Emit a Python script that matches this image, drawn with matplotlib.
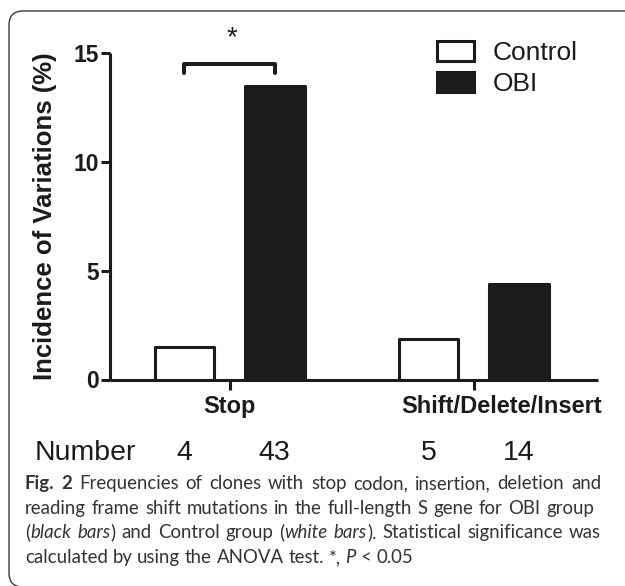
import matplotlib
matplotlib.use("Agg")
import matplotlib.pyplot as plt
from matplotlib.patches import FancyBboxPatch
from matplotlib import transforms as mtrans
import numpy as np

# ---------------- data ----------------
categories = ["Stop", "Shift/Delete/Insert"]
series_names = ["Control", "OBI"]
control_pct = [1.5, 1.85]
obi_pct = [13.5, 4.4]
control_n = [4, 5]
obi_n = [43, 14]
y_ticks = [0, 5, 10, 15]
ylabel = "Incidence of Variations (%)"
sig_label = "*"
caption_lines = [
    "#Fig. 2# Frequencies of clones with stop codon, insertion, deletion and",
    "reading frame shift mutations in the full-length S gene for OBI group",
    "(_black bars_) and Control group (_white bars_). Statistical significance was",
    "calculated by using the ANOVA test. *, _P_ < 0.05",
]

W, H = 625, 586
fig = plt.figure(figsize=(W / 100, H / 100), dpi=100)
fig.patch.set_facecolor("white")

SANS = ["Liberation Sans", "DejaVu Sans"]
CAP = ["Lato", "Open Sans", "DejaVu Sans"]

def px2fx(x):
    return x / W

def px2fy(y):
    return 1 - y / H

ax_left, ax_right, ax_top, ax_bot = 110, 598, 53, 379.5
ax = fig.add_axes([px2fx(ax_left), px2fy(ax_bot),
                   (ax_right - ax_left) / W, (ax_bot - ax_top) / H])

x = np.arange(len(categories))
bw = 0.245
off = 0.185
dark = "#1b1b1b"
lw_edge = 2.2
b1 = ax.bar(x - off, control_pct, bw, color="white", edgecolor=dark,
            linewidth=lw_edge, label=series_names[0], zorder=3)
b2 = ax.bar(x + off, obi_pct, bw, color=dark, edgecolor=dark,
            linewidth=lw_edge, label=series_names[1], zorder=3)
for b in list(b1) + list(b2):
    b.set_joinstyle("round")

ax.set_xlim(-0.49, 1.51)
ax.set_ylim(0, 15)
ax.set_yticks(y_ticks)
ax.set_xticks(x)
ax.set_xticklabels(categories)
for s in ["top", "right"]:
    ax.spines[s].set_visible(False)
for s in ["left", "bottom"]:
    ax.spines[s].set_linewidth(2.2)
    ax.spines[s].set_color(dark)
    ax.spines[s].set_capstyle("butt")
ax.tick_params(axis="y", length=6.5, width=2.2, color=dark, pad=1.5,
               labelsize=16.5)
ax.tick_params(axis="x", length=7, width=2.2, color=dark, pad=4,
               labelsize=17)
for lab in ax.get_yticklabels() + ax.get_xticklabels():
    lab.set_family(SANS)
    lab.set_fontweight("bold")
    lab.set_color(dark)
# shift second category label to the right as in reference
xl = ax.get_xticklabels()
xl[1].set_transform(xl[1].get_transform() +
                    mtrans.ScaledTranslation(28 / 100, 0, fig.dpi_scale_trans))

ax.set_ylabel(ylabel, family=SANS, fontweight="bold", fontsize=18.5, color=dark)
ax.yaxis.set_label_coords((57 - ax_left) / (ax_right - ax_left), 0.5)

# significance bracket
bx0, bx1 = x[0] - off, x[0] + off
ax.plot([bx0, bx0, bx1, bx1], [14.1, 14.5, 14.5, 14.1], color=dark, lw=2.9,
        solid_capstyle="round", solid_joinstyle="round", clip_on=False, zorder=4)
ax.text(x[0] + 0.01, 15.7, sig_label, ha="center", va="center", fontsize=20,
        family=SANS, color=dark, clip_on=False)

# legend
leg = ax.legend(handles=[b1, b2], labels=series_names, loc="upper left",
                bbox_to_anchor=(px2fx(437), px2fy(41)), bbox_transform=fig.transFigure,
                frameon=False, borderpad=0, borderaxespad=0,
                handlelength=1.4, handleheight=0.76, handletextpad=0.72,
                labelspacing=0.28, prop={"family": SANS, "size": 19})
for t in leg.get_texts():
    t.set_color(dark)

# Number row
blend = mtrans.blended_transform_factory(ax.transData, fig.transFigure)
fig.text(px2fx(35), px2fy(460), "Number", ha="left", va="baseline",
         fontsize=20.5, family=SANS, color=dark)
for i in range(len(categories)):
    fig.text(x[i] - off, px2fy(460), str(control_n[i]), transform=blend,
             ha="center", va="baseline", fontsize=20.5, family=SANS, color=dark)
    fig.text(x[i] + off, px2fy(460), str(obi_n[i]), transform=blend,
             ha="center", va="baseline", fontsize=20.5, family=SANS, color=dark)

# outer rounded frame (right and bottom edges fall outside the image)
frame = FancyBboxPatch((9, -1.0), 700, 576, boxstyle="round,pad=0,rounding_size=14",
                       transform=mtrans.IdentityTransform(), fill=False,
                       edgecolor="#3a3a3a", linewidth=1.0, clip_on=False)
fig.patches.append(frame)

# caption with mixed styles, justified
renderer = fig.canvas.get_renderer()

def parse(line):
    words = []
    bold = False
    ital = False
    for w in line.split(" "):
        segs = []
        cur = ""
        for ch in w:
            if ch in "#_":
                if cur:
                    segs.append((cur, bold, ital))
                    cur = ""
                if ch == "#":
                    bold = not bold
                else:
                    ital = not ital
            else:
                cur += ch
        if cur:
            segs.append((cur, bold, ital))
        words.append(segs)
    return words

def seg_width(txt, b, i, fs):
    t = fig.text(0, 0, txt, fontsize=fs, family=CAP,
                 fontweight="bold" if b else "normal",
                 fontstyle="italic" if i else "normal")
    w = t.get_window_extent(renderer).width
    t.remove()
    return w

def word_width(segs, fs):
    return sum(seg_width(s, b, i, fs) for s, b, i in segs)

parsed = [parse(l) for l in caption_lines]
fs0 = 10.0
sp0 = seg_width("a a", False, False, fs0) - seg_width("aa", False, False, fs0)
nat4 = sum(word_width(w, fs0) for w in parsed[3]) + sp0 * (len(parsed[3]) - 1)
cap_fs = fs0 * (411 - 25) / nat4
cap_color = "#333333"
x_start = 25
targets = [601, 594, 601, None]
baselines = [489, 514, 538, 563]
for li, words in enumerate(parsed):
    widths = [word_width(w, cap_fs) for w in words]
    sp = sp0 * cap_fs / fs0
    if targets[li] is not None and len(words) > 1:
        sp = (targets[li] - x_start - sum(widths)) / (len(words) - 1)
    xp = x_start
    for w, ww in zip(words, widths):
        xx = xp
        for s, b, i in w:
            fig.text(px2fx(xx), px2fy(baselines[li]), s, fontsize=cap_fs,
                     family=CAP, fontweight="bold" if b else "normal",
                     fontstyle="italic" if i else "normal", color=cap_color,
                     ha="left", va="baseline")
            xx += seg_width(s, b, i, cap_fs)
        xp += ww + sp

fig.savefig("out.png", dpi=100, facecolor="white")
